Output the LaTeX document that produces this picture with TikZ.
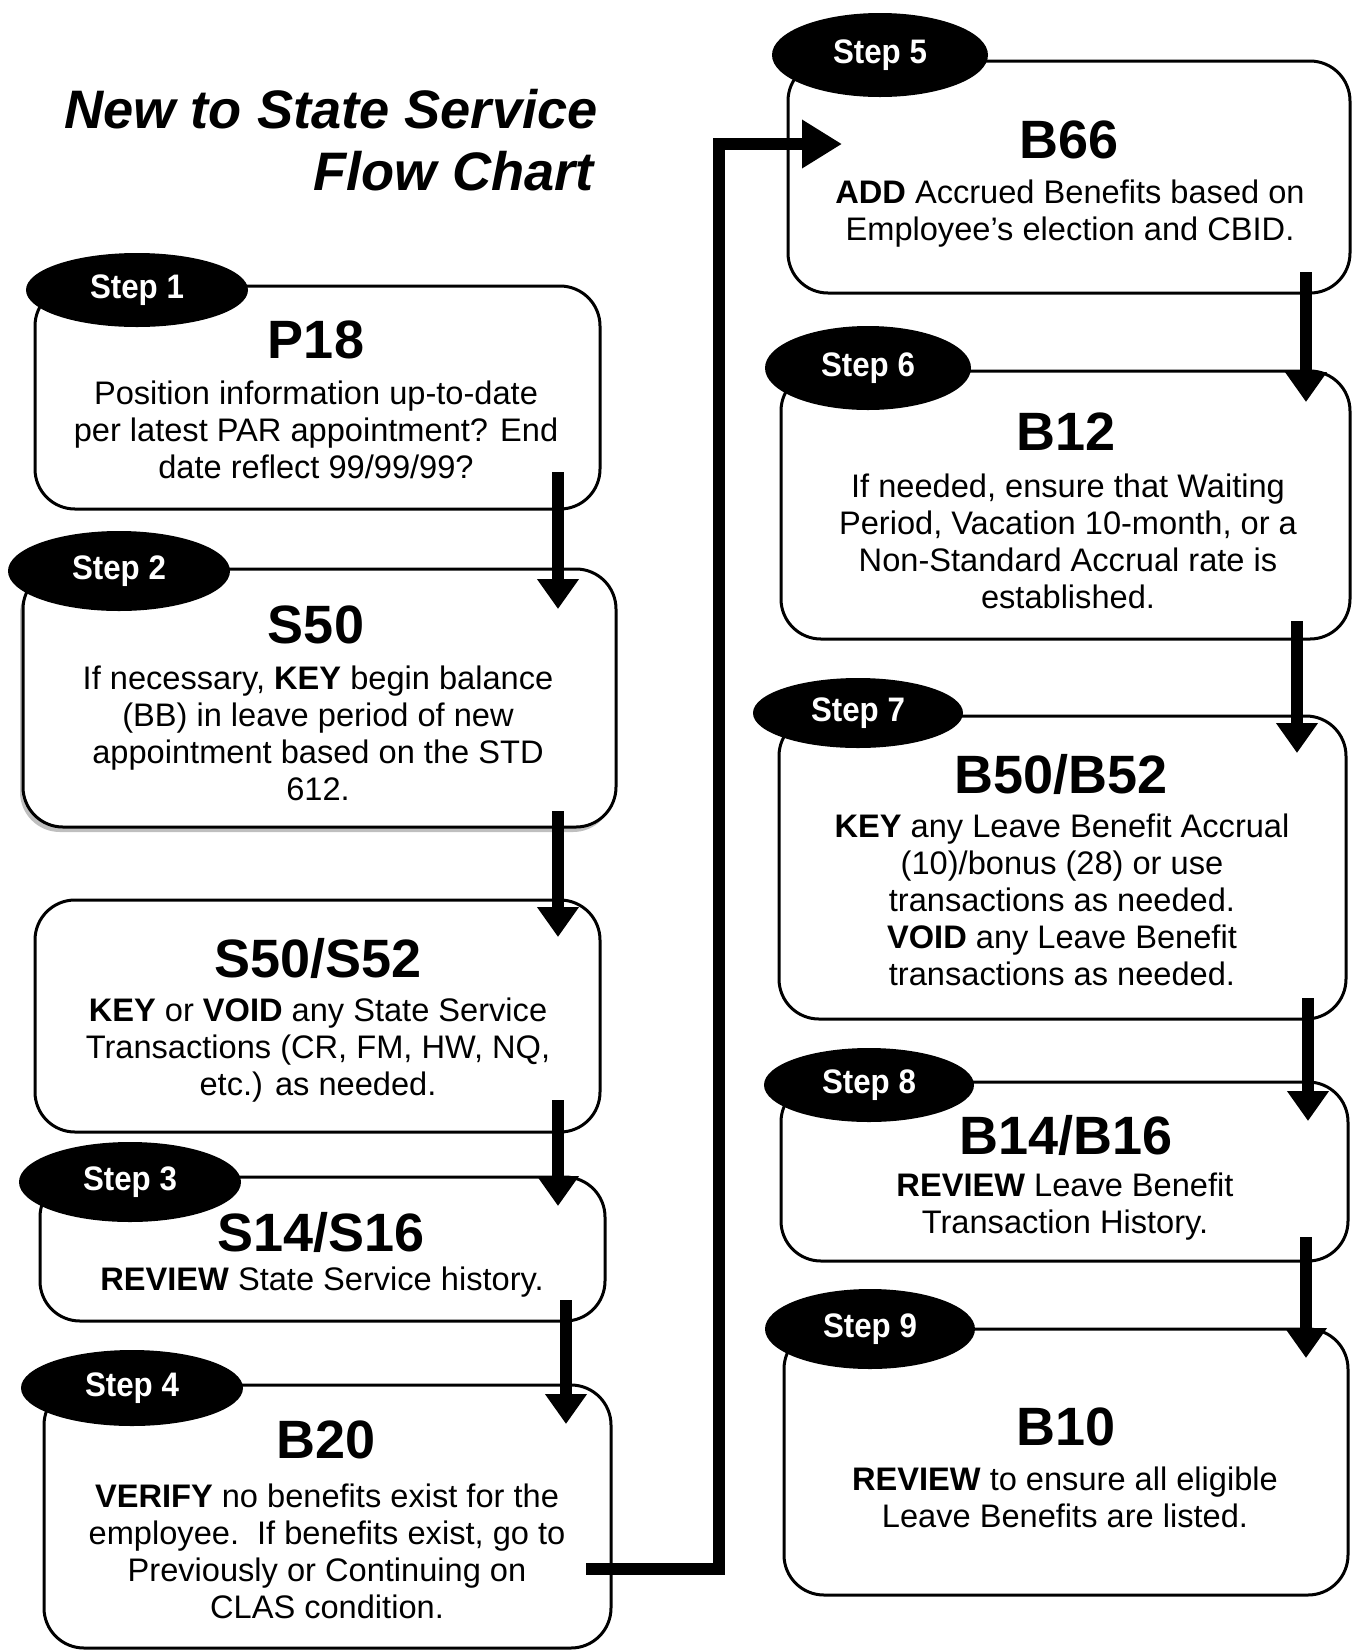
\documentclass[tikz,border=0pt]{standalone}
\usepackage{fontspec}
\setmainfont{Liberation Sans}
\newfontfamily\stepfont[FakeStretch=0.92]{Liberation Sans}
\usetikzlibrary{arrows.meta,shapes.geometric,calc,shadows}
\begin{document}
\begin{tikzpicture}[x=0.5pt,y=-0.5pt,
  box/.style={draw, line width=1.5pt, rounded corners=20pt, fill=white, inner sep=0pt, outer sep=0pt},
  stepell/.style={ellipse, fill=black, inner sep=0pt, outer sep=0pt, text=white, font=\stepfont\bfseries\fontsize{17}{20}\selectfont},
  head/.style={font=\bfseries\fontsize{27}{32}\selectfont, inner sep=0pt},
  body/.style={font=\fontsize{16.3}{18.5}\selectfont, align=center, inner sep=0pt},
  arr/.style={line width=6.3pt, -{Triangle[width=20pt,length=15pt]}},
  arrlong/.style={line width=6.3pt, line join=miter, -{Triangle[width=23pt,length=20pt]}},
  ttl/.style={font=\bfseries\itshape\fontsize{27.1}{31}\selectfont, inner sep=0pt, anchor=base east}
]
\fill[white] (0,0) rectangle (1353,1651);
\useasboundingbox (0,0) rectangle (1353,1651);

% title
\node[ttl] (t1) at (598,128) {New to State Service};
\node[ttl] (t2) at (594,190) {Flow Chart};

% boxes left
\node[box, minimum width=282.5pt, minimum height=111.5pt] (p18) at (317.5,397.5) {};
\node[box, minimum width=296.5pt, minimum height=129pt, drop shadow={shadow xshift=-1.5pt, shadow yshift=-2.5pt, opacity=0.25, fill=black}] (s50) at (319.5,698) {};
\node[box, minimum width=282.5pt, minimum height=116pt] (s5052) at (317.5,1016) {};
\node[box, minimum width=282.5pt, minimum height=72pt] (s1416) at (322.5,1249) {};
\node[box, minimum width=283.5pt, minimum height=131.5pt] (b20) at (327.5,1516.5) {};
% boxes right
\node[box, minimum width=281pt, minimum height=116pt] (b66) at (1069,177) {};
\node[box, minimum width=284.5pt, minimum height=134pt] (b12) at (1065.5,505) {};
\node[box, minimum width=283.5pt, minimum height=151.5pt] (b5052) at (1062.5,867.5) {};
\node[box, minimum width=283.5pt, minimum height=89.5pt] (b1416) at (1064.5,1171.5) {};
\node[box, minimum width=282pt, minimum height=133pt] (b10) at (1066,1462) {};

% step ellipses
\node[stepell, minimum width=111pt, minimum height=37pt] (e1) at (137,290) {Step 1};
\node[stepell, minimum width=111pt, minimum height=40pt] (e2) at (119,571) {Step 2};
\node[stepell, minimum width=111pt, minimum height=40pt] (e3) at (130,1182) {Step 3};
\node[stepell, minimum width=111pt, minimum height=38pt] (e4) at (132,1388) {Step 4};
\node[stepell, minimum width=108pt, minimum height=42pt] (e5) at (880,55) {Step 5};
\node[stepell, minimum width=103pt, minimum height=42pt] (e6) at (868,368) {Step 6};
\node[stepell, minimum width=105pt, minimum height=35pt] (e7) at (858,713) {Step 7};
\node[stepell, minimum width=105pt, minimum height=37pt] (e8) at (869,1085) {Step 8};
\node[stepell, minimum width=105pt, minimum height=40pt] (e9) at (870,1329) {Step 9};

% headings
\node[head] (p18h) at (316,340) {P18};
\node[head] (s50h) at (316,625) {S50};
\node[head] (s5052h) at (318,958) {S50/S52};
\node[head] (s1416h) at (321,1232) {S14/S16};
\node[head] (b20h) at (326,1440) {B20};
\node[head] (b66h) at (1069,140) {B66};
\node[head] (b12h) at (1066,432) {B12};
\node[head] (b5052h) at (1061,774) {B50/B52};
\node[head] (b1416h) at (1066,1135) {B14/B16};
\node[head] (b10h) at (1066,1427) {B10};

% bodies
\node[body] (p18b) at (316,430) {Position information up-to-date\\per latest PAR appointment? End\\date reflect 99/99/99?};
\node[body] (s50b) at (318,733) {If necessary, \textbf{KEY} begin balance\\(BB) in leave period of new\\appointment based on the STD\\612.};
\node[body] (s5052b) at (318,1050) {\textbf{KEY} or \textbf{VOID} any State Service\\Transactions (CR, FM, HW, NQ,\\etc.) as needed.};
\node[body] (s1416b) at (322,1282) {\textbf{REVIEW} State Service history.};
\node[body] (b20b) at (327,1551) {\textbf{VERIFY} no benefits exist for the\\employee.\ \ If benefits exist, go to\\Previously or Continuing on\\CLAS condition.};
\node[body] (b66b) at (1070,214) {\textbf{ADD} Accrued Benefits based on\\Employee’s election and CBID.};
\node[body] (b12b) at (1068,541) {If needed, ensure that Waiting\\Period, Vacation 10-month, or a\\Non-Standard Accrual rate is\\established.};
\node[body] (b5052b) at (1062,900) {\textbf{KEY} any Leave Benefit Accrual\\(10)/bonus (28) or use\\transactions as needed.\\\textbf{VOID} any Leave Benefit\\transactions as needed.};
\node[body] (b1416b) at (1065,1207) {\textbf{REVIEW} Leave Benefit\\Transaction History.};
\node[body] (b10b) at (1065,1497) {\textbf{REVIEW} to ensure all eligible\\Leave Benefits are listed.};

% arrows
\draw[arr] ($(p18.south east)+(-42,-37)$) -- ($(s50.north east)+(-58,40)$);
\draw[arr] ($(s50.south east)+(-58,-16)$) -- ($(s5052.north east)+(-42,37)$);
\draw[arr] ($(s5052.south east)+(-42,-32)$) -- ($(s1416.north east)+(-47,29)$);
\draw[arr] ($(s1416.south east)+(-39,-21)$) -- ($(b20.north east)+(-45,39)$);
\draw[arrlong] ($(b20.south east)+(-25,-79)$) -| ($(b66.west)+(-69,-33)$) -- ($(b66.west)+(54,-33)$);
\draw[arr] ($(b66.south east)+(-44,-21)$) -- ($(b12.north east)+(-44,31)$);
\draw[arr] ($(b12.south east)+(-53,-18)$) -- ($(b5052.north east)+(-49,37)$);
\draw[arr] ($(b5052.south east)+(-38,-21)$) -- ($(b1416.north east)+(-40,39)$);
\draw[arr] ($(b1416.south east)+(-42,-24)$) -- ($(b10.north east)+(-42,29)$);
\end{tikzpicture}
\end{document}
